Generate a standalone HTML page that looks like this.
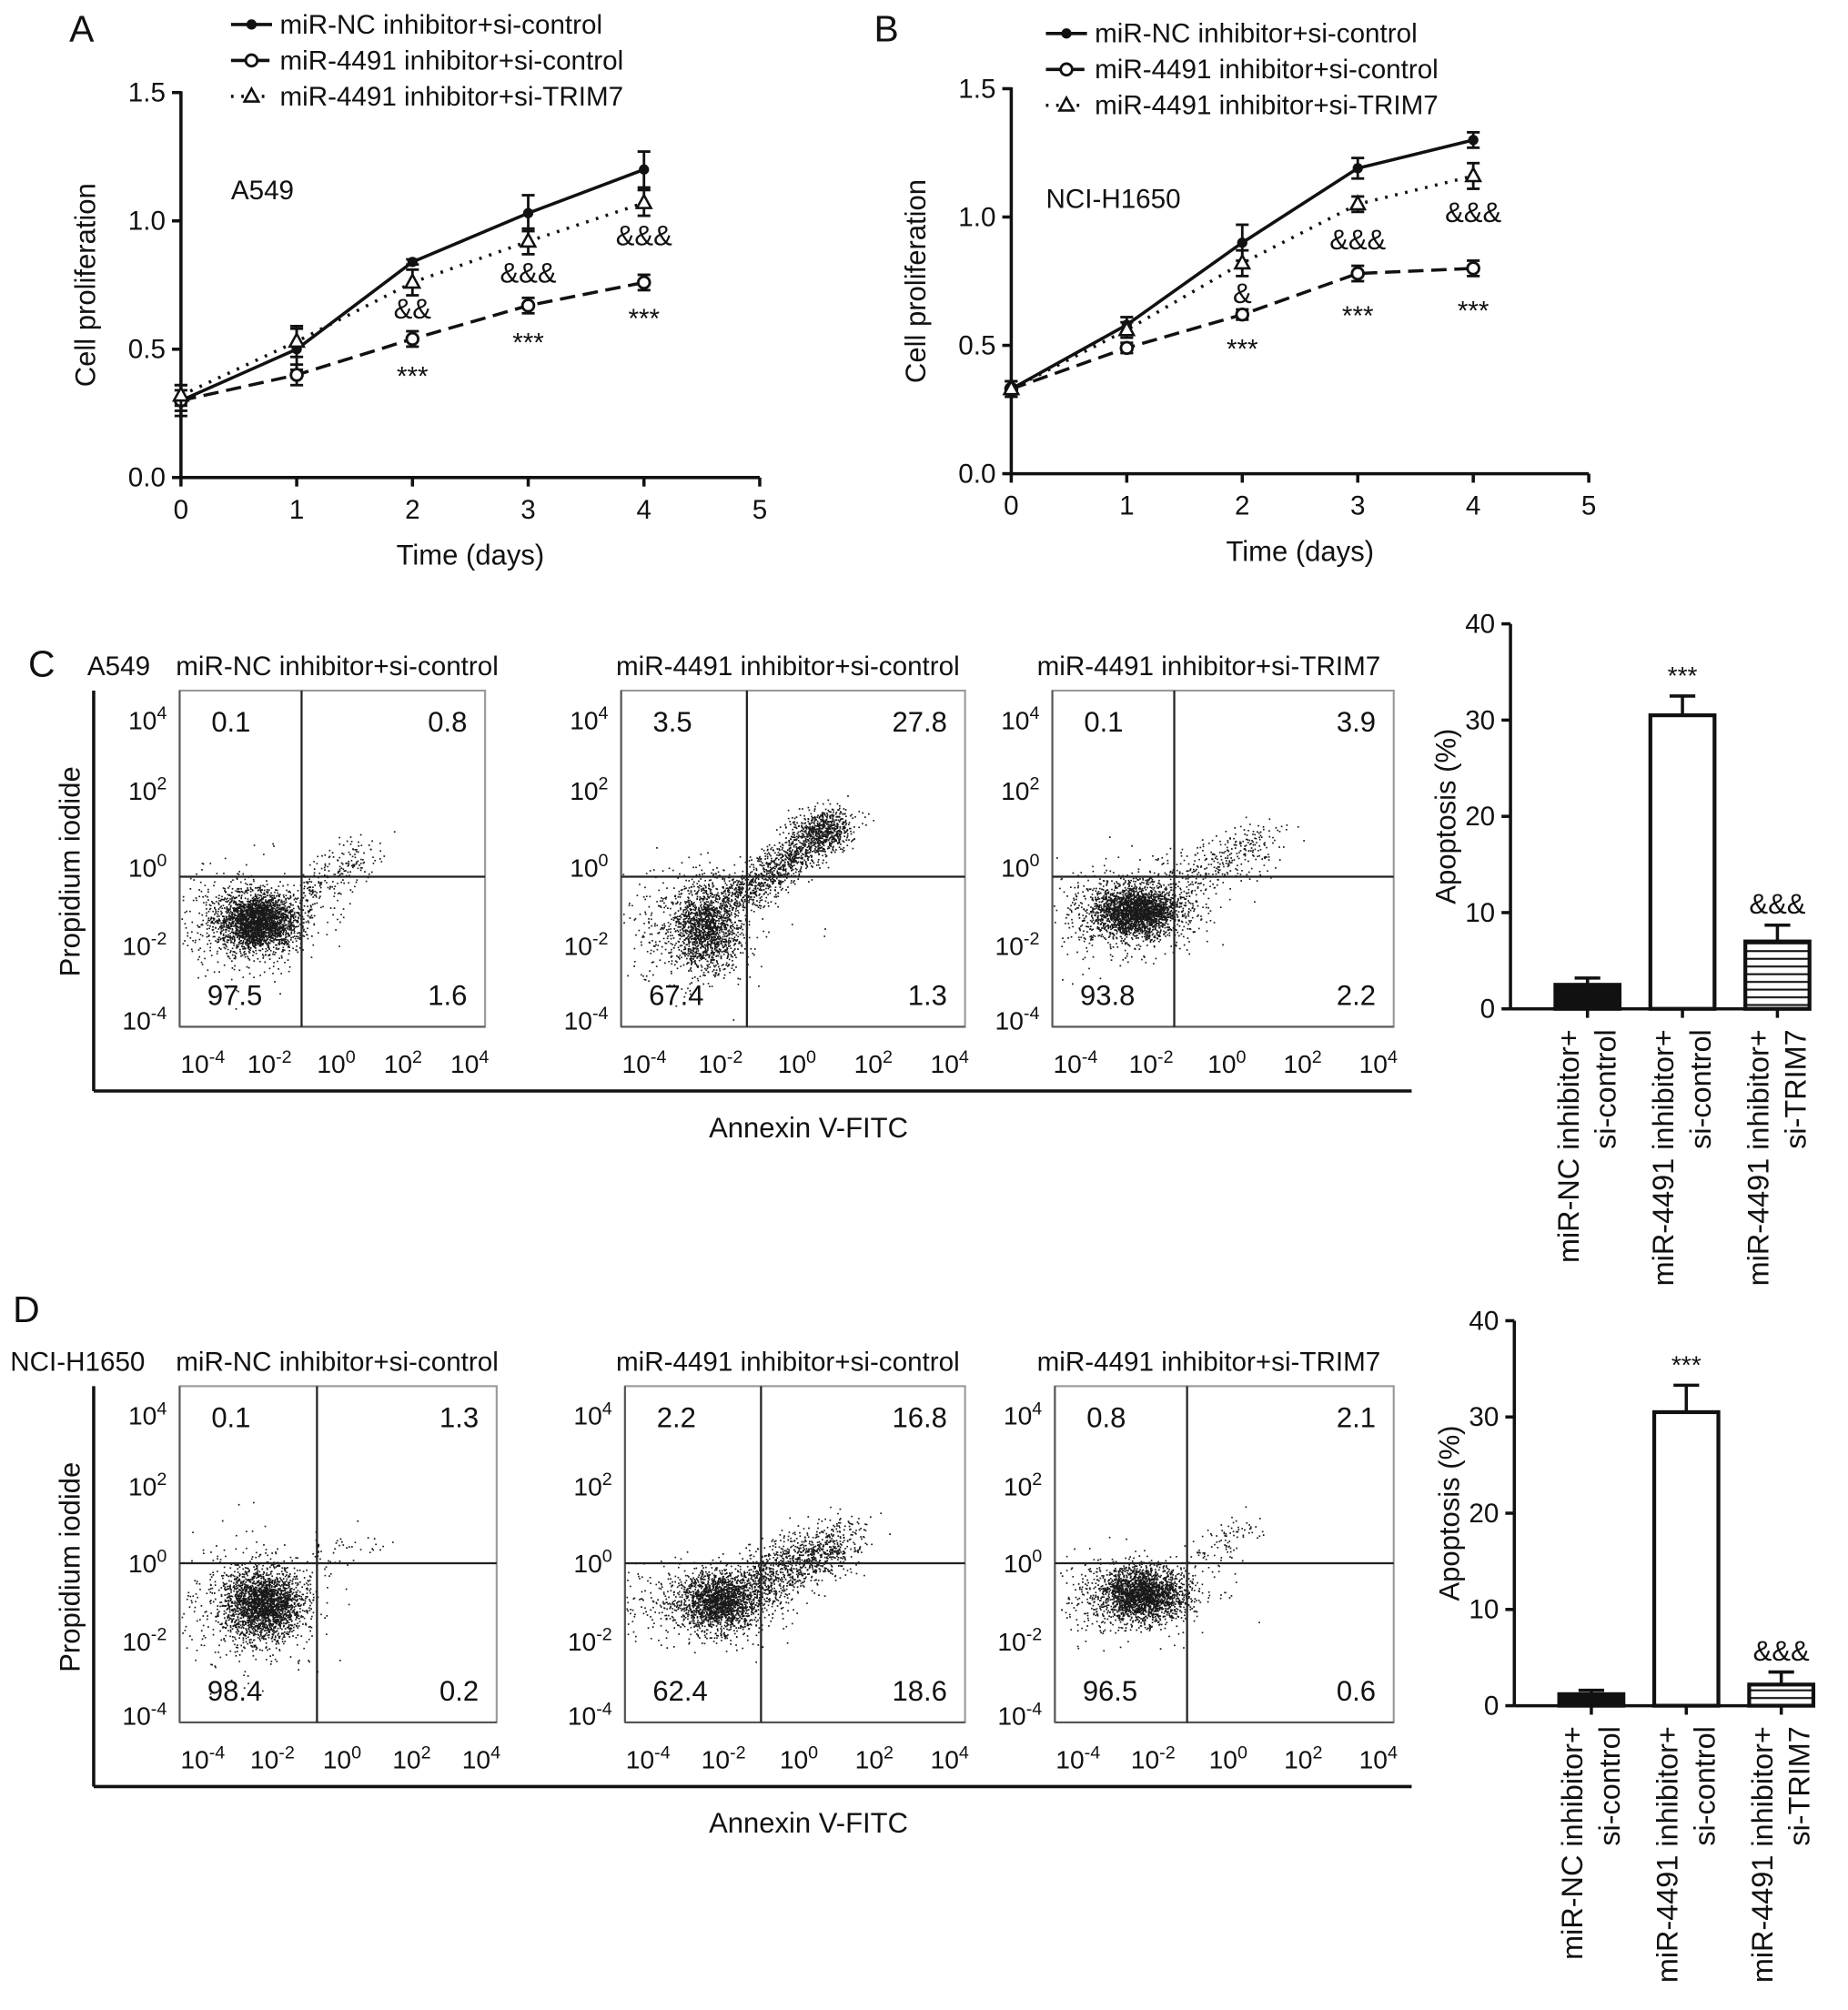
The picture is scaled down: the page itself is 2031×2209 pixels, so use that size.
<!DOCTYPE html>
<html><head><meta charset="utf-8"><style>
html,body{margin:0;padding:0;background:#fff;}
svg{display:block;}
text{font-family:"Liberation Sans",Arial,sans-serif;fill:#111;}
</style></head><body>
<svg id="fig" width="2031" height="2209" viewBox="0 0 1440 1566" xmlns="http://www.w3.org/2000/svg"></svg>
<script>
// ---- Panel A data (A549 proliferation) ----
const days = [0,1,2,3,4];
const xTicks = [0,1,2,3,4,5];
const yTicks = [0.0,0.5,1.0,1.5];
const seriesNames = ["miR-NC inhibitor+si-control","miR-4491 inhibitor+si-control","miR-4491 inhibitor+si-TRIM7"];
const aNC = [0.30,0.50,0.84,1.03,1.20];
const aNCerr = [0.06,0.08,0.01,0.07,0.07];
const aCtl = [0.30,0.40,0.54,0.67,0.76];
const aCtlErr = [0.04,0.04,0.03,0.03,0.03];
const aTrim = [0.32,0.53,0.76,0.92,1.07];
const aTrimErr = [0.04,0.06,0.05,0.05,0.05];
const aAmp = ["","","&&","&&&","&&&"];
const aStar = ["","","***","***","***"];
// ---- Panel B data (NCI-H1650 proliferation) ----
const bNC = [0.33,0.58,0.90,1.19,1.30];
const bNCerr = [0.03,0.03,0.07,0.04,0.03];
const bCtl = [0.33,0.49,0.62,0.78,0.80];
const bCtlErr = [0.03,0.02,0.02,0.03,0.03];
const bTrim = [0.33,0.56,0.82,1.05,1.16];
const bTrimErr = [0.03,0.03,0.05,0.03,0.05];
const bAmp = ["","","&","&&&","&&&"];
const bStar = ["","","***","***","***"];
// ---- Apoptosis bars ----
const barCats = [["miR-NC inhibitor+","si-control"],["miR-4491 inhibitor+","si-control"],["miR-4491 inhibitor+","si-TRIM7"]];
const barTicks = [0,10,20,30,40];
const cApop = [2.5,30.5,7.0];
const cApopErr = [0.7,2.0,1.7];
const dApop = [1.2,30.5,2.2];
const dApopErr = [0.4,2.8,1.3];
const barMarks = ["","***","&&&"];
// ---- Flow quadrant percentages [UL, UR, LL, LR] ----
const flowTitles = ["miR-NC inhibitor+si-control","miR-4491 inhibitor+si-control","miR-4491 inhibitor+si-TRIM7"];
const cQuad = [["0.1","0.8","97.5","1.6"],["3.5","27.8","67.4","1.3"],["0.1","3.9","93.8","2.2"]];
const dQuad = [["0.1","1.3","98.4","0.2"],["2.2","16.8","62.4","18.6"],["0.8","2.1","96.5","0.6"]];
const logExp = ["-4","-2","0","2","4"];

const NS="http://www.w3.org/2000/svg";
const svg=document.getElementById('fig');
function el(tag,attrs,parent){const e=document.createElementNS(NS,tag);for(const k in attrs)e.setAttribute(k,attrs[k]);(parent||svg).appendChild(e);return e;}
function txt(s,x,y,size,anchor,parent,extra){const t=el('text',Object.assign({x:x,y:y,'font-size':size,'text-anchor':anchor||'start'},extra||{}),parent);t.textContent=s;return t;}
function pow10(base,exp,x,y,size,anchor,parent){const t=el('text',{x:x,y:y,'font-size':size,'text-anchor':anchor||'middle'},parent);
 const a=document.createElementNS(NS,'tspan');a.textContent=base;t.appendChild(a);
 const b=document.createElementNS(NS,'tspan');b.setAttribute('dy',-8);b.setAttribute('font-size',size*0.7);b.textContent=exp;t.appendChild(b);return t;}

// ---------- line chart ----------
function lineChart(cfg){
 const g=el('g',{});
 
 
 const sx=v=>cfg.x0+(cfg.x1-cfg.x0)*v/5;
 const sy=v=>cfg.y0-(cfg.y0-cfg.y1)*v/1.5;
 el('line',{x1:cfg.x0,y1:cfg.y0,x2:cfg.x0,y2:cfg.y1-1,stroke:'#111','stroke-width':2.5},g);
 el('line',{x1:cfg.x0,y1:cfg.y0,x2:cfg.x1,y2:cfg.y0,stroke:'#111','stroke-width':2.5},g);
 yTicks.forEach(v=>{el('line',{x1:cfg.x0-7,y1:sy(v),x2:cfg.x0,y2:sy(v),stroke:'#111','stroke-width':2.5},g);
  const t=txt(v.toFixed(1),cfg.x0-12,sy(v)+7,21,'end',g);});
 xTicks.forEach(v=>{el('line',{x1:sx(v),y1:cfg.y0,x2:sx(v),y2:cfg.y0+7,stroke:'#111','stroke-width':2.5},g);
  const t=txt(String(v),sx(v),cfg.y0+32,21,'middle',g);});
 const xt=txt('Time (days)',(cfg.x0+cfg.x1)/2,cfg.y0+68,22,'middle',g);
 const yt=txt('Cell proliferation',0,0,22,'middle',g,{transform:`translate(${cfg.x0-67},${(cfg.y0+cfg.y1)/2}) rotate(-90)`});
 
 const cl=txt(cfg.cell,cfg.cellX,cfg.cellY,21,'start',g);
 const styles=[{dash:'',m:'dot'},{dash:'12,6',m:'circ'},{dash:'2,6',m:'tri'}];
 cfg.series.forEach((s,i)=>{
  const st=styles[i];
  const pts=days.map((d,j)=>sx(d)+','+sy(s.v[j])).join(' ');
  const p=el('polyline',{points:pts,fill:'none',stroke:'#111','stroke-width':2.5,'stroke-dasharray':st.dash},g);
  
  days.forEach((d,j)=>{const x=sx(d),y=sy(s.v[j]);
   const e=s.e[j];
   el('line',{x1:x,y1:sy(s.v[j]-e),x2:x,y2:sy(s.v[j]+e),stroke:'#111','stroke-width':2},g);
   el('line',{x1:x-5,y1:sy(s.v[j]+e),x2:x+5,y2:sy(s.v[j]+e),stroke:'#111','stroke-width':2},g);
   el('line',{x1:x-5,y1:sy(s.v[j]-e),x2:x+5,y2:sy(s.v[j]-e),stroke:'#111','stroke-width':2},g);
   let m;
   if(st.m=='dot')m=el('circle',{cx:x,cy:y,r:4,fill:'#111'},g);
   else if(st.m=='circ')m=el('circle',{cx:x,cy:y,r:4.5,fill:'#fff',stroke:'#111','stroke-width':2},g);
   else m=el('polygon',{points:`${x},${y-6} ${x-5.5},${y+4} ${x+5.5},${y+4}`,fill:'#fff',stroke:'#111','stroke-width':1.8},g);
   
  });
 });
 days.forEach((d,j)=>{
  if(cfg.amp[j]){const t=txt(cfg.amp[j],sx(d),sy(cfg.series[2].v[j])+cfg.ampOff[j],22,'middle',g);}
  if(cfg.star[j]){const t=txt(cfg.star[j],sx(d),sy(cfg.series[1].v[j])+cfg.starOff[j],21,'middle',g);}
 });
 cfg.leg.forEach((ly,i)=>{
  const st=styles[i];const lg=el('g',{},g);
  
  el('line',{x1:cfg.legX,y1:ly,x2:cfg.legX+32,y2:ly,stroke:'#111','stroke-width':2.5,'stroke-dasharray':st.dash},lg);
  const mx=cfg.legX+16;
  if(st.m=='dot')el('circle',{cx:mx,cy:ly,r:4,fill:'#111'},lg);
  else if(st.m=='circ')el('circle',{cx:mx,cy:ly,r:4.5,fill:'#fff',stroke:'#111','stroke-width':2},lg);
  else el('polygon',{points:`${mx},${ly-6} ${mx-5.5},${ly+4} ${mx+5.5},${ly+4}`,fill:'#fff',stroke:'#111','stroke-width':1.8},lg);
  txt(seriesNames[i],cfg.legX+38,ly+7,21,'start',lg);
 });
 const pl=txt(cfg.letter,cfg.letX,cfg.letY,29,'start',g);
}
lineChart({name:'panel-a-proliferation-chart',x0:141,x1:592,y0:372,y1:72,cell:'A549',cellX:180,cellY:155,
 series:[{v:aNC,e:aNCerr},{v:aCtl,e:aCtlErr},{v:aTrim,e:aTrimErr}],amp:aAmp,star:aStar,
 ampOff:[0,0,28,32,33],starOff:[0,0,36,36,35],leg:[19,47,75],legX:180,letter:'A',letX:54,letY:32});
lineChart({name:'panel-b-proliferation-chart',x0:788,x1:1238,y0:369,y1:69,cell:'NCI-H1650',cellX:815,cellY:162,
 series:[{v:bNC,e:bNCerr},{v:bCtl,e:bCtlErr},{v:bTrim,e:bTrimErr}],amp:bAmp,star:bStar,
 ampOff:[0,0,31,35,36],starOff:[0,0,34,40,40],leg:[26,54,82],legX:815,letter:'B',letX:681,letY:32});

// ---------- flow plots ----------
let seed=12345;function rnd(){seed=(seed*1103515245+12345)%2147483648;return seed/2147483648;}
function gauss(){let u=rnd()||1e-9,v=rnd();return Math.sqrt(-2*Math.log(u))*Math.cos(2*Math.PI*v);}
function flowPlot(g,bx,by,bw,bh,vx,hy,quad,clouds){
 const fg=el('g',{},g);
 
 
 el('rect',{x:bx,y:by,width:bw,height:bh,fill:'none',stroke:'#999','stroke-width':1.5},fg);
 el('line',{x1:bx,y1:by+bh,x2:bx+bw,y2:by+bh,stroke:'#555','stroke-width':1.5},fg);
 el('line',{x1:bx,y1:by,x2:bx,y2:by+bh,stroke:'#555','stroke-width':1.5},fg);
 let d='';
 clouds.forEach(c=>{for(let i=0;i<c.n;i++){let x,y;
  if(c.t=='g'){x=c.x+gauss()*c.sx;y=c.y+gauss()*c.sy;}
  else{const f=rnd();x=c.x+(c.x2-c.x)*f+gauss()*c.s;y=c.y+(c.y2-c.y)*f+gauss()*c.s;}
  if(x<bx+1||x>bx+bw-1||y<by+1||y>by+bh-1)continue;
  d+=`M${x.toFixed(1)} ${y.toFixed(1)}h1.2`;}});
 const p=el('path',{d:d,stroke:'#000','stroke-width':1.2,fill:'none',opacity:0.9},fg);
 
 el('line',{x1:vx,y1:by,x2:vx,y2:by+bh,stroke:'#222','stroke-width':1.6},fg);
 el('line',{x1:bx,y1:hy,x2:bx+bw,y2:hy,stroke:'#222','stroke-width':1.6},fg);
 const ys=[by+22,by+77,by+137,by+198,by+256];
 ['4','2','0','-2','-4'].forEach((e,i)=>{const t=pow10('10',e,bx-10,ys[i]+8,20,'end',fg);});
 logExp.forEach((e,i)=>{const t=pow10('10',e,bx+22+i*(bw-30)/4-4,by+bh+36,20,'middle',fg);});
 const q=[[bx+40,by+32,'middle'],[bx+bw-14,by+32,'end'],[bx+43,by+bh-17,'middle'],[bx+bw-14,by+bh-17,'end']];
 quad.forEach((v,i)=>{const t=txt(v,q[i][0],q[i][1],22,q[i][2],fg);});
}
function flowRow(cfg){
 const g=el('g',{});
 
 
 const top=cfg.top,bh=262;
 el('line',{x1:73,y1:top,x2:73,y2:top+bh+50,stroke:'#111','stroke-width':2.5},g);
 el('line',{x1:73,y1:top+bh+50,x2:1100,y2:top+bh+50,stroke:'#111','stroke-width':2.5},g);
 const yt=txt('Propidium iodide',0,0,22,'middle',g,{transform:`translate(62,${top+bh/2+10}) rotate(-90)`});
 
 const xt=txt('Annexin V-FITC',630,top+bh+86,22,'middle',g);
 const pl=txt(cfg.letter,cfg.letX,cfg.letY,29,'start',g);
 const cl=txt(cfg.cell,cfg.cellX,top-12,21,'start',g);
 cfg.plots.forEach((p,i)=>{
  const tt=txt(flowTitles[i],p.tx,top-12,21,'start',g);
  flowPlot(g,p.bx,top,p.bw,bh,p.vx,cfg.hy,cfg.quad[i],p.clouds);
 });
}
flowRow({name:'panel-c-flow-cytometry',top:538,hy:683,letter:'C',letX:22,letY:527,cell:'A549',cellX:68,quad:cQuad,plots:[
 {bx:140,bw:238,vx:235,tx:137,clouds:[{t:'g',n:2400,x:200,y:718,sx:15,sy:11},{t:'g',n:500,x:195,y:720,sx:28,sy:20},{t:'l',n:220,x:235,y:700,x2:285,y2:665,s:9}]},
 {bx:484,bw:268,vx:582,tx:480,clouds:[{t:'g',n:1400,x:550,y:722,sx:13,sy:17},{t:'g',n:400,x:535,y:722,sx:30,sy:22},{t:'l',n:1200,x:570,y:702,x2:655,y2:640,s:8},{t:'g',n:350,x:640,y:645,sx:12,sy:8}]},
 {bx:820,bw:266,vx:915,tx:808,clouds:[{t:'g',n:2200,x:885,y:710,sx:17,sy:10},{t:'g',n:500,x:875,y:712,sx:32,sy:18},{t:'l',n:350,x:910,y:690,x2:990,y2:655,s:10}]}
]});
flowRow({name:'panel-d-flow-cytometry',top:1080,hy:1218,letter:'D',letX:10,letY:1030,cell:'NCI-H1650',cellX:8,quad:dQuad,plots:[
 {bx:140,bw:247,vx:247,tx:137,clouds:[{t:'g',n:2100,x:205,y:1250,sx:15,sy:13},{t:'g',n:500,x:195,y:1252,sx:28,sy:24},{t:'l',n:40,x:250,y:1215,x2:305,y2:1195,s:6}]},
 {bx:487,bw:265,vx:593,tx:480,clouds:[{t:'g',n:1600,x:560,y:1248,sx:15,sy:11},{t:'g',n:500,x:545,y:1248,sx:34,sy:16},{t:'l',n:1100,x:580,y:1238,x2:660,y2:1200,s:11}]},
 {bx:822,bw:264,vx:925,tx:808,clouds:[{t:'g',n:2100,x:890,y:1242,sx:17,sy:10},{t:'g',n:400,x:875,y:1245,sx:32,sy:16},{t:'l',n:90,x:925,y:1215,x2:980,y2:1190,s:7}]}
]});

// ---------- bar charts ----------
function barChart(cfg){
 const g=el('g',{});
 
 
 const sy=v=>cfg.y0-(cfg.y0-cfg.y1)*v/40;
 const cx=[cfg.x0+60,cfg.x0+134,cfg.x0+208];
 const defs=el('defs',{},g);
 const pat=el('pattern',{id:cfg.name+'-stripes',patternUnits:'userSpaceOnUse',width:10,height:6},defs);
 el('line',{x1:0,y1:3,x2:10,y2:3,stroke:'#111','stroke-width':1.5},pat);
 el('line',{x1:cfg.x0,y1:cfg.y0,x2:cfg.x0,y2:cfg.y1,stroke:'#111','stroke-width':2.5},g);
 el('line',{x1:cfg.x0,y1:cfg.y0,x2:cfg.x0+233,y2:cfg.y0,stroke:'#111','stroke-width':2.5},g);
 barTicks.forEach(v=>{el('line',{x1:cfg.x0-7,y1:sy(v),x2:cfg.x0,y2:sy(v),stroke:'#111','stroke-width':2.5},g);
  const t=txt(String(v),cfg.x0-12,sy(v)+7,21,'end',g);});
 const yt=txt('Apoptosis (%)',0,0,22,'middle',g,{transform:`translate(${cfg.x0-43},${(cfg.y0+cfg.y1)/2}) rotate(-90)`});
 
 const fills=['#111','#fff','url(#'+cfg.name+'-stripes)'];
 cfg.vals.forEach((v,i)=>{
  const x=cx[i],w=50,e=cfg.errs[i];
  el('line',{x1:x,y1:sy(v),x2:x,y2:sy(v+e),stroke:'#111','stroke-width':2.5},g);
  el('line',{x1:x-10,y1:sy(v+e),x2:x+10,y2:sy(v+e),stroke:'#111','stroke-width':2.5},g);
  const r=el('rect',{x:x-w/2,y:sy(v),width:w,height:cfg.y0-sy(v),fill:fills[i],stroke:'#111','stroke-width':3},g);
  
  el('line',{x1:x,y1:cfg.y0,x2:x,y2:cfg.y0+7,stroke:'#111','stroke-width':2.5},g);
  if(barMarks[i]){const t=txt(barMarks[i],x,sy(v+e)-9,barMarks[i]=='***'?20:22,'middle',g);}
  barCats[i].forEach((s,k)=>{const t=txt(s,0,0,23,'end',g,{transform:`translate(${x-7+k*29},${cfg.y0+16}) rotate(-90)`});
   });
 });
}
barChart({name:'panel-c-apoptosis-bars',x0:1177,y0:786,y1:486,vals:cApop,errs:cApopErr});
barChart({name:'panel-d-apoptosis-bars',x0:1180,y0:1329,y1:1029,vals:dApop,errs:dApopErr});
</script>
</body></html>
